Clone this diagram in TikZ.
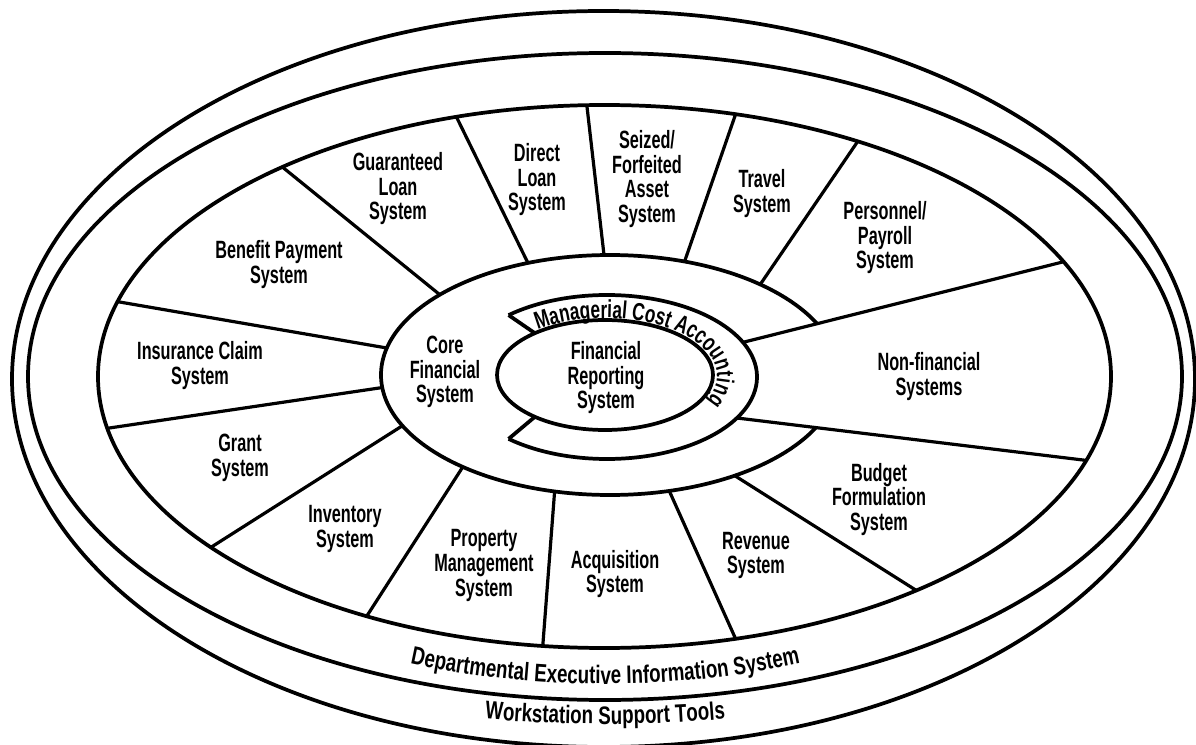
\documentclass[tikz,border=0pt]{standalone}
\usepackage{fontspec}
\usetikzlibrary{decorations.text,calc}
\newfontfamily\lblfont{Liberation Sans}[FakeStretch=0.65]
\newfontfamily\bandfontfam{Liberation Sans}[FakeStretch=0.74]
\newfontfamily\mcafontfam{Liberation Sans}[FakeStretch=0.7]
\newcommand\lblfmt{\lblfont\bfseries\fontsize{18.75}{18.4}\selectfont}
\newcommand\bandfmt{\bandfontfam\bfseries\fontsize{19}{19}\selectfont}
\newcommand\mcafmt{\mcafontfam\bfseries\fontsize{18.5}{18.5}\selectfont}
\begin{document}
\begin{tikzpicture}[x=0.75pt,y=0.75pt,
  ring/.style={line width=2.8pt},
  spoke/.style={line width=2.4pt},
  lbl/.style={font=\lblfmt, align=center, inner sep=0pt, text=black}]
\useasboundingbox (0,0) rectangle (1196,-745);
\clip (0,0) rectangle (1196,-745);
\fill[white] (0,0) rectangle (1196,-745);
% centres
\coordinate (E1) at (603.5,-379);
\coordinate (E2) at (605,-376.5);
\coordinate (W) at (604.5,-376.5);
\coordinate (C) at (610,-375);
\coordinate (M) at (607,-377);
\coordinate (F) at (605,-375);
\coordinate (T) at (605,-376);
% outer rings
\draw[ring] (E1) ellipse [x radius=443.625pt, y radius=276pt];
\draw[ring] (E2) ellipse [x radius=432.75pt, y radius=242.625pt];
\draw[ring] (W) ellipse [x radius=379.875pt, y radius=203.625pt];
% core ellipse
\draw[ring] (C) ellipse [x radius=171.75pt, y radius=90pt];
% spoke end points on the wheel
\foreach \n/\a in {1/164,2/191,3/219,4/242,5/263,6/285,7/308,8/342,9/25,10/60,11/75,12/92,13/107,14/129.5}
  \coordinate (w\n) at ($(W)+(\a:379.875pt and 203.625pt)$);
\foreach \n/\a in {1/167,2/186,3/205,4/230,5/256,6/285,7/303,10/49,11/71,12/91.5,13/111,14/138}
  \coordinate (c\n) at ($(C)+(\a:171.75pt and 90pt)$);
\coordinate (mU) at ($(M)+(25:112.5pt and 61.5pt)$);
\coordinate (mL) at ($(M)+(-30:112.5pt and 61.5pt)$);
% clear the core outline inside the non-financial sector
\fill[white] (mU) -- ($(mU)!0.45!(w9)$) -- ($(mL)!0.45!(w8)$) -- (mL) -- cycle;
% spokes
\foreach \n in {1,2,3,4,5,6,7,10,11,12,13,14}
  \draw[spoke] (c\n) -- (w\n);
\draw[spoke] (mU) -- (w9);
\draw[spoke] (mL) -- (w8);
% managerial cost accounting band
\coordinate (mT) at ($(M)+(131:112.5pt and 61.5pt)$);
\coordinate (mB) at ($(M)+(-131:112.5pt and 61.5pt)$);
\coordinate (fT) at ($(F)+(130.5:81pt and 41.25pt)$);
\coordinate (fB) at ($(F)+(229.5:81pt and 41.25pt)$);
\draw[ring] (mT) arc[start angle=131, end angle=-131, x radius=112.5pt, y radius=61.5pt];
\draw[ring] (mT) -- (fT);
\draw[ring] (mB) -- (fB);
\draw[ring] (F) ellipse [x radius=81pt, y radius=41.25pt];
\path[decoration={text along path, text={|\mcafmt|Managerial Cost Accounting}}, decorate]
  ($(T)+(127:84pt and 43.5pt)$) arc[start angle=127, end angle=-50, x radius=84pt, y radius=43.5pt];
% curved band labels
\path[decoration={text along path, text align=center, text={|\bandfmt|Departmental Executive Information System}}, decorate]
  ($(T)+(232:408.75pt and 231pt)$) arc[start angle=232, end angle=308, x radius=408.75pt, y radius=231pt];
\path[decoration={text along path, text align=center, text={|\bandfmt|Workstation Support Tools}}, decorate]
  ($(T)+(245:525pt and 261pt)$) arc[start angle=245, end angle=295, x radius=525pt, y radius=261pt];
% sector labels
\node[lbl] (ben) at (279,-264.5) {Benefit Payment\\System};
\node[lbl] (gua) at (398,-189) {Guaranteed\\Loan\\System};
\node[lbl] (dir) at (537,-180) {Direct\\Loan\\System};
\node[lbl] (sei) at (647,-179) {Seized/\\Forfeited\\Asset\\System};
\node[lbl] (tra) at (762,-193.5) {Travel\\System};
\node[lbl] (per) at (885,-238) {Personnel/\\Payroll\\System};
\node[lbl] (ins) at (200,-365.5) {Insurance Claim\\System};
\node[lbl] (gra) at (240,-458) {Grant\\System};
\node[lbl] (inv) at (345,-529) {Inventory\\System};
\node[lbl] (pro) at (484,-565.5) {Property\\Management\\System};
\node[lbl] (acq) at (615,-574) {Acquisition\\System};
\node[lbl] (rev) at (756,-555.5) {Revenue\\System};
\node[lbl] (bud) at (879,-499.5) {Budget\\Formulation\\System};
\node[lbl] (non) at (929,-376.5) {Non-financial\\Systems};
\node[lbl] (cor) at (445,-372) {Core\\Financial\\System};
\node[lbl] (frs) at (606,-378) {Financial\\Reporting\\System};
\end{tikzpicture}
\end{document}
